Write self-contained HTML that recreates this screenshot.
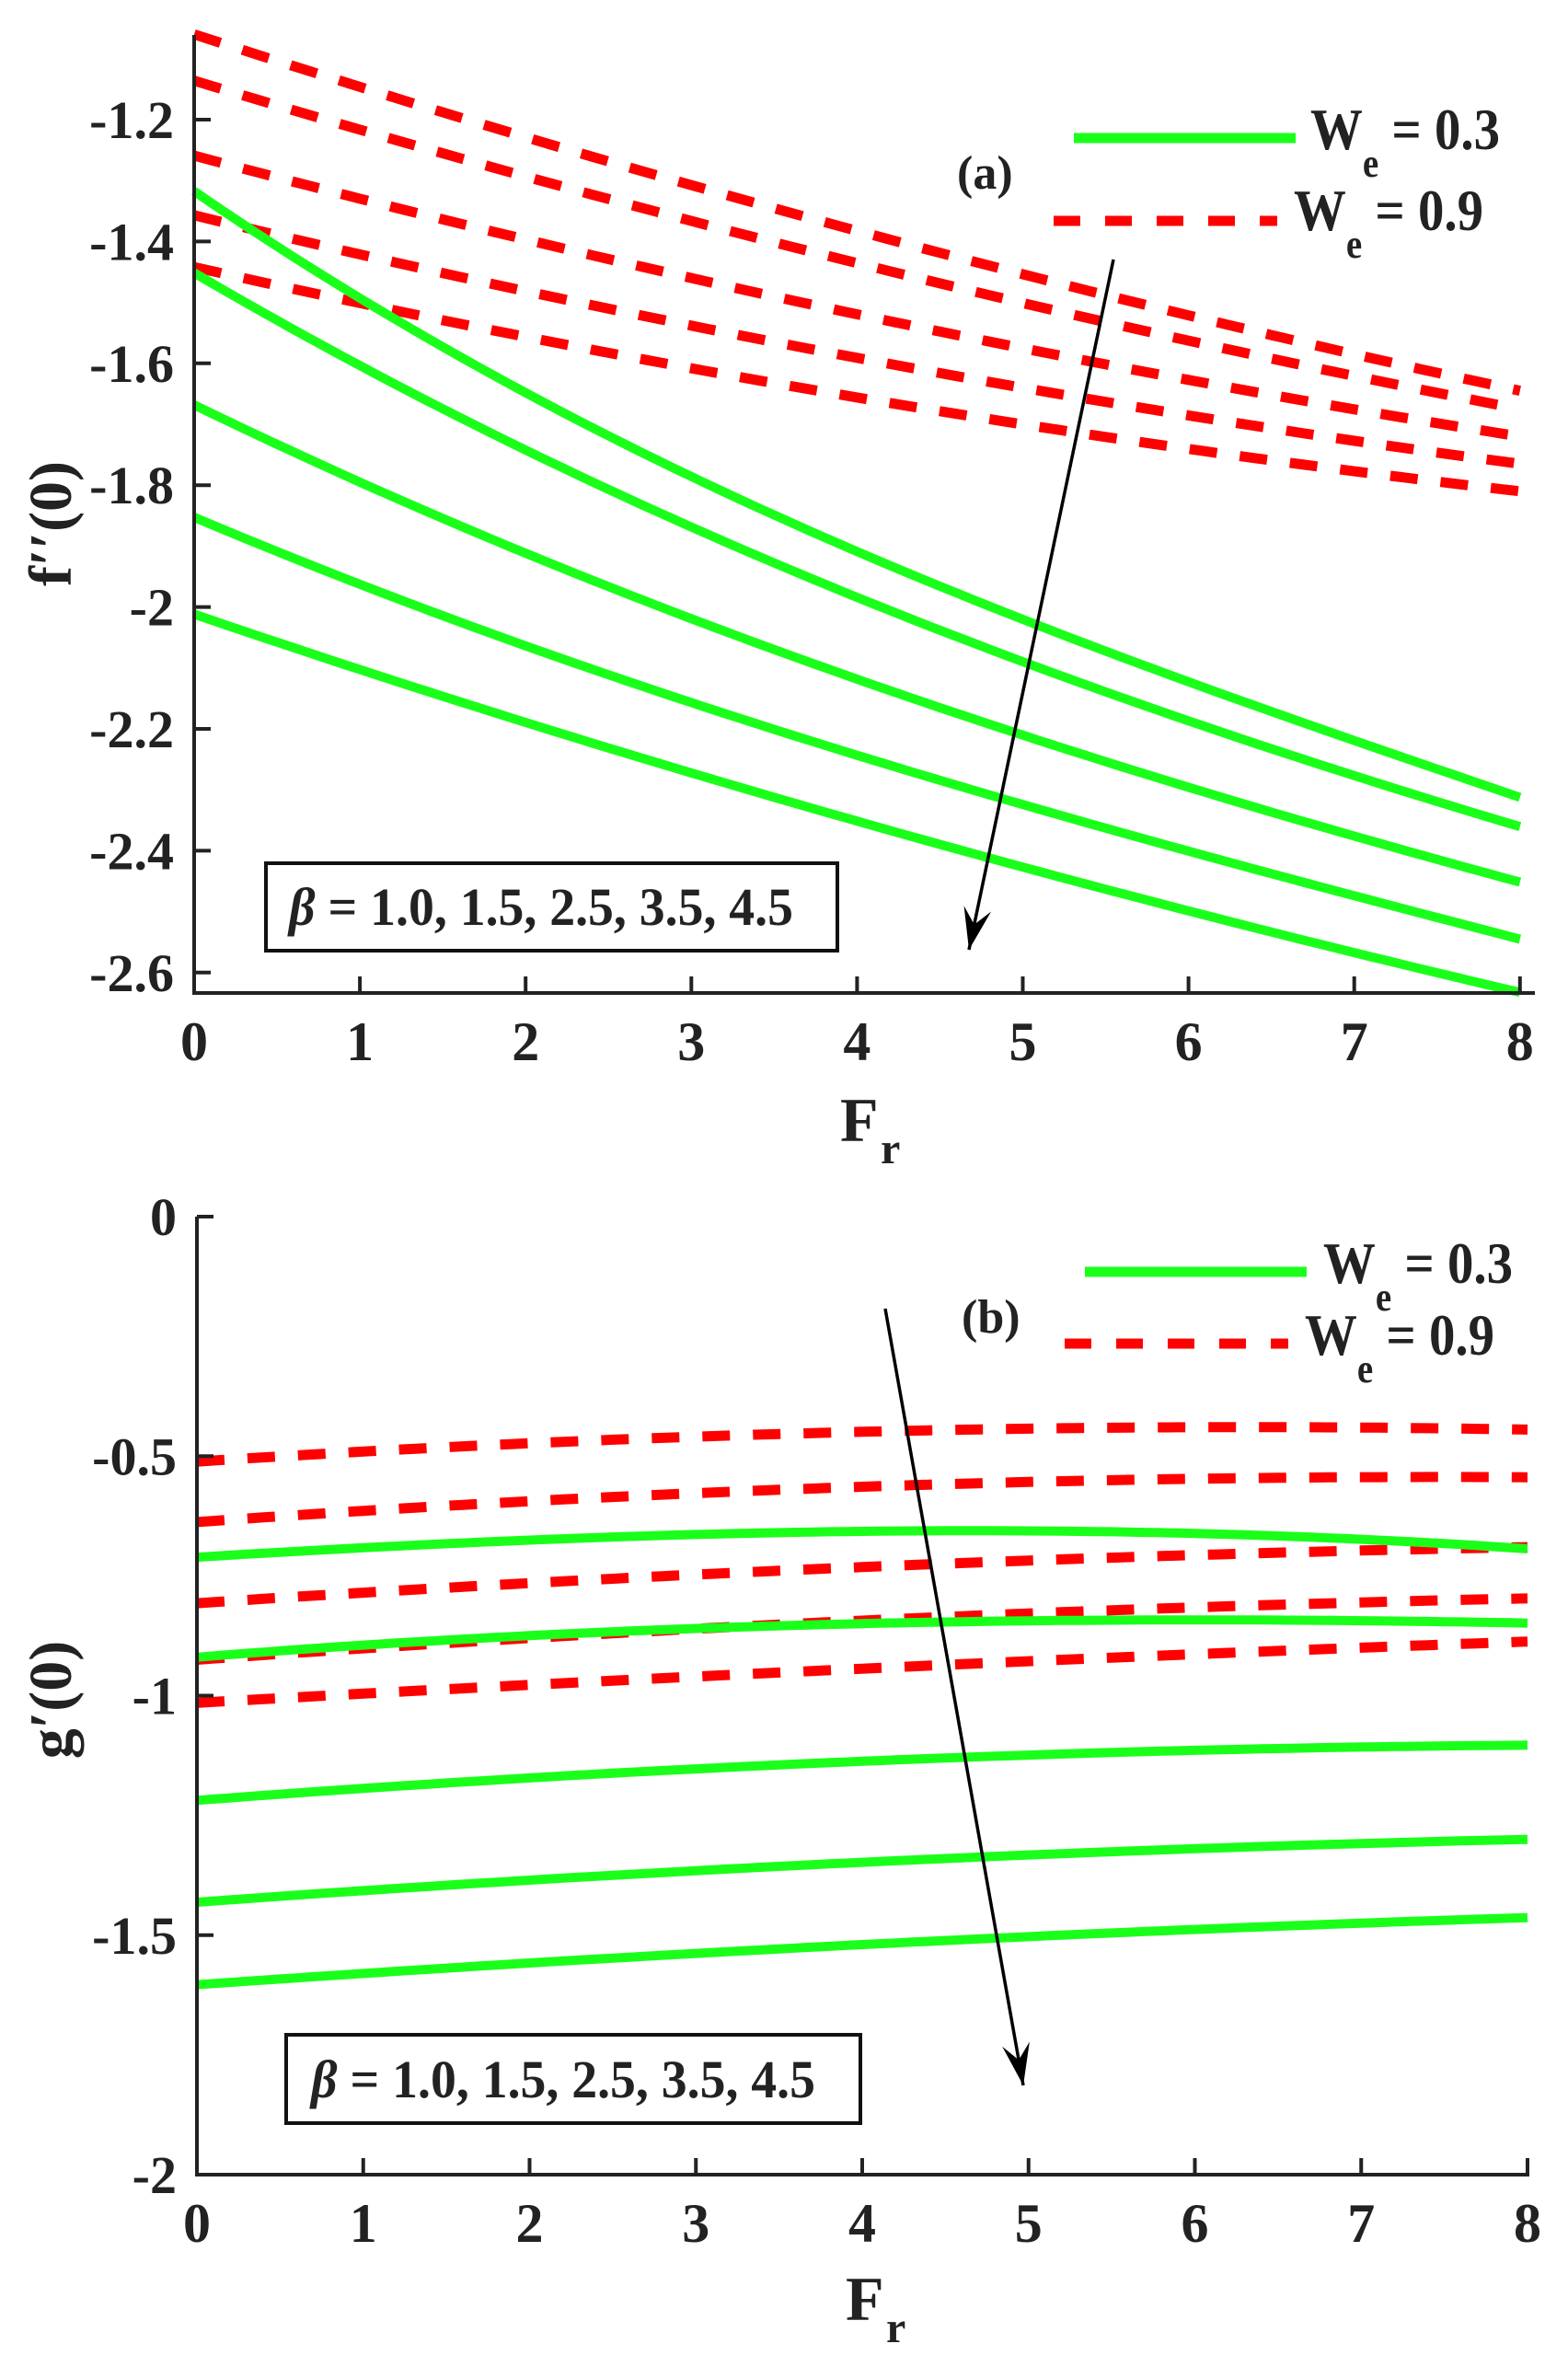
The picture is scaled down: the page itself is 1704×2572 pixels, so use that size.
<!DOCTYPE html>
<html><head><meta charset="utf-8"><style>
html,body{margin:0;padding:0;background:#fff;}
svg{display:block;}
text{font-family:"Liberation Serif","Times New Roman",serif;font-weight:bold;fill:#222;}
</style></head><body>
<svg id="s" xmlns="http://www.w3.org/2000/svg" width="1704" height="2572" viewBox="0 0 1704 2572">
<rect width="1704" height="2572" fill="#fff"/>
<g id="g"></g>
<g stroke="#222" stroke-width="4" fill="none">
<path d="M211 38 V1079 H1668"/>
</g>
<g stroke="#222" stroke-width="4" fill="none">
<path d="M214 1322 V2363 H1662"/>
</g>
<g id="ticks"></g>
<text x="62" y="569" font-size="66" text-anchor="middle" transform="rotate(-90 62 569)" dominant-baseline="middle">f′′(0)</text>
<text x="62" y="1847" font-size="66" text-anchor="middle" transform="rotate(-90 62 1847)" dominant-baseline="middle">g′(0)</text>
<text x="913" y="1240" font-size="68">F</text><text x="957" y="1264" font-size="48">r</text>
<text x="919" y="2521" font-size="68">F</text><text x="963" y="2545" font-size="48">r</text>
<line x1="1167" y1="150" x2="1408" y2="150" stroke="#1aff1a" stroke-width="11"/>
<line x1="1145" y1="240" x2="1388" y2="240" stroke="#ff0000" stroke-width="11" stroke-dasharray="29 27"/>
<text x="1424" y="162" font-size="64" textLength="206" lengthAdjust="spacingAndGlyphs">W<tspan dy="30" font-size="44">e</tspan><tspan dy="-30"> = 0.3</tspan></text>
<text x="1406" y="250" font-size="64" textLength="206" lengthAdjust="spacingAndGlyphs">W<tspan dy="30" font-size="44">e</tspan><tspan dy="-30"> = 0.9</tspan></text>
<text x="1040" y="205" font-size="52">(a)</text>
<line x1="1179" y1="1382" x2="1420" y2="1382" stroke="#1aff1a" stroke-width="11"/>
<line x1="1157" y1="1460" x2="1400" y2="1460" stroke="#ff0000" stroke-width="11" stroke-dasharray="29 27"/>
<text x="1438" y="1394" font-size="64" textLength="206" lengthAdjust="spacingAndGlyphs">W<tspan dy="30" font-size="44">e</tspan><tspan dy="-30"> = 0.3</tspan></text>
<text x="1418" y="1472" font-size="64" textLength="206" lengthAdjust="spacingAndGlyphs">W<tspan dy="30" font-size="44">e</tspan><tspan dy="-30"> = 0.9</tspan></text>
<text x="1045" y="1448" font-size="52">(b)</text>
<rect x="289" y="938" width="621" height="95" fill="#fff" stroke="#111" stroke-width="4"/>
<text x="314" y="1005" font-size="58" textLength="548" lengthAdjust="spacingAndGlyphs"><tspan font-style="italic">β</tspan> = 1.0, 1.5, 2.5, 3.5, 4.5</text>
<rect x="311" y="2211" width="624" height="96" fill="#fff" stroke="#111" stroke-width="4"/>
<text x="338" y="2279" font-size="58" textLength="548" lengthAdjust="spacingAndGlyphs"><tspan font-style="italic">β</tspan> = 1.0, 1.5, 2.5, 3.5, 4.5</text>
<g id="arr"></g>
</svg>
<script>
var NS="http://www.w3.org/2000/svg";
function el(p,t,a){var e=document.createElementNS(NS,t);for(var k in a)e.setAttribute(k,a[k]);p.appendChild(e);return e;}
var g=document.getElementById('g'),tk=document.getElementById('ticks'),ar=document.getElementById('arr');
function TX(x){return 211+x*180.1;} function TY(v){return 130+(-1.2-v)/0.2*132.4;}
function BX(x){return 214+x*180.75;} function BY(v){return 1322+(-v)*520.5;}
function polyfit(xs,ys,deg){var n=deg+1,A=[],b=[];for(var i=0;i<n;i++){A.push([]);for(var j=0;j<n;j++){var s=0;xs.forEach(function(x){s+=Math.pow(x,i+j);});A[i].push(s);}var t=0;xs.forEach(function(x,k){t+=ys[k]*Math.pow(x,i);});b.push(t);}
 for(var c=0;c<n;c++){var p=c;for(var r=c+1;r<n;r++)if(Math.abs(A[r][c])>Math.abs(A[p][c]))p=r;var tm=A[c];A[c]=A[p];A[p]=tm;tm=b[c];b[c]=b[p];b[p]=tm;
  for(var r=c+1;r<n;r++){var f=A[r][c]/A[c][c];for(var k=c;k<n;k++)A[r][k]-=f*A[c][k];b[r]-=f*b[c];}}
 var co=new Array(n);for(var i=n-1;i>=0;i--){var s=b[i];for(var k=i+1;k<n;k++)s-=A[i][k]*co[k];co[i]=s/A[i][i];}
 return function(x){var v=0;for(var i=0;i<n;i++)v+=co[i]*Math.pow(x,i);return v;};}
function curve(fx,fy,xs,ys,color,dash,deg){var f=polyfit(xs,ys,deg||2);var d="";for(var x=0;x<=8.0001;x+=0.1){d+=(d?"L":"M")+fx(x).toFixed(1)+" "+fy(f(x)).toFixed(1);}
 var a={d:d,fill:"none",stroke:color,"stroke-width":dash?11:10,"stroke-linejoin":"round"};if(dash)a["stroke-dasharray"]="30 25";el(g,"path",a);}
var X9=[0,1,2,3,4,5,6,7,8];
var topRedS=[-1.06,-1.136,-1.259,-1.357,-1.442],topRedE=[-1.645,-1.675,-1.72,-1.765,-1.81];
for(var i=0;i<5;i++){var ys=[];for(var j=0;j<9;j++){var t=j/8;ys.push(topRedS[i]+(topRedE[i]-topRedS[i])*t-0.12*t*(1-t));}curve(TX,TY,X9,ys,"#ff0000",1,2);}
var topG=[[-1.318,-1.491,-1.652,-1.782,-1.912,-2.018,-2.123,-2.22,-2.312],
[-1.45,-1.605,-1.745,-1.869,-1.981,-2.085,-2.191,-2.28,-2.358],
[-1.668,-1.795,-1.912,-2.02,-2.117,-2.21,-2.296,-2.377,-2.451],
[-1.854,-1.958,-2.067,-2.16,-2.241,-2.321,-2.402,-2.476,-2.544],
[-2.011,-2.102,-2.194,-2.272,-2.346,-2.427,-2.501,-2.569,-2.631]];
topG.forEach(function(ys){curve(TX,TY,X9,ys,"#1aff1a",0,3);});
var X5=[0,2,4,6,8];
var bR=[[-0.512,-0.472,-0.449,-0.441,-0.444],[-0.638,-0.594,-0.562,-0.55,-0.543],[-0.806,-0.767,-0.732,-0.704,-0.691],[-0.924,-0.882,-0.843,-0.814,-0.798],[-1.014,-0.98,-0.943,-0.912,-0.888]];
bR.forEach(function(ys){curve(BX,BY,X5,ys,"#ff0000",1,2);});
var X7=[0,2,4,5,6,7,8];
curve(BX,BY,X7,[-0.712,-0.672,-0.66,-0.658,-0.661,-0.669,-0.696],"#1aff1a",0,3);
curve(BX,BY,X7,[-0.92,-0.874,-0.85,-0.845,-0.841,-0.843,-0.849],"#1aff1a",0,3);
curve(BX,BY,X5,[-1.22,-1.169,-1.137,-1.117,-1.102],"#1aff1a",0,2);
curve(BX,BY,X5,[-1.433,-1.381,-1.35,-1.321,-1.299],"#1aff1a",0,2);
curve(BX,BY,X5,[-1.605,-1.554,-1.523,-1.488,-1.463],"#1aff1a",0,2);
function txt(p,x,y,s,anchor,size){var e=el(p,"text",{x:x,y:y,"font-size":size||58,"text-anchor":anchor});e.textContent=s;}
for(var k=0;k<=8;k++){var x=TX(k);el(tk,"line",{x1:x,y1:1079,x2:x,y2:1061,stroke:"#222","stroke-width":4});txt(tk,x,1152,""+k,"middle",60);
 var x2=BX(k);el(tk,"line",{x1:x2,y1:2363,x2:x2,y2:2345,stroke:"#222","stroke-width":4});txt(tk,x2,2436,""+k,"middle",60);}
["-1.2","-1.4","-1.6","-1.8","-2","-2.2","-2.4","-2.6"].forEach(function(s){var y=TY(parseFloat(s));el(tk,"line",{x1:211,y1:y,x2:229,y2:y,stroke:"#222","stroke-width":4});txt(tk,189,y+20,s,"end");});
["0","-0.5","-1","-1.5","-2"].forEach(function(s){var y=BY(parseFloat(s));el(tk,"line",{x1:214,y1:y,x2:232,y2:y,stroke:"#222","stroke-width":4});txt(tk,192,y+20,s,"end");});
function arrow(x1,y1,x2,y2){el(ar,"line",{x1:x1,y1:y1,x2:x2,y2:y2,stroke:"#000","stroke-width":3.5});
 var a=Math.atan2(y2-y1,x2-x1),L=48,W=0.32,b=28;
 var p1=[x2-L*Math.cos(a-W),y2-L*Math.sin(a-W)],p2=[x2-L*Math.cos(a+W),y2-L*Math.sin(a+W)],pm=[x2-b*Math.cos(a),y2-b*Math.sin(a)];
 el(ar,"path",{d:"M"+x2+" "+y2+"L"+p1+"L"+pm+"L"+p2+"Z",fill:"#000"});}
arrow(1210,282,1053,1032);
arrow(962,1422,1112,2266);
</script>
</body></html>
